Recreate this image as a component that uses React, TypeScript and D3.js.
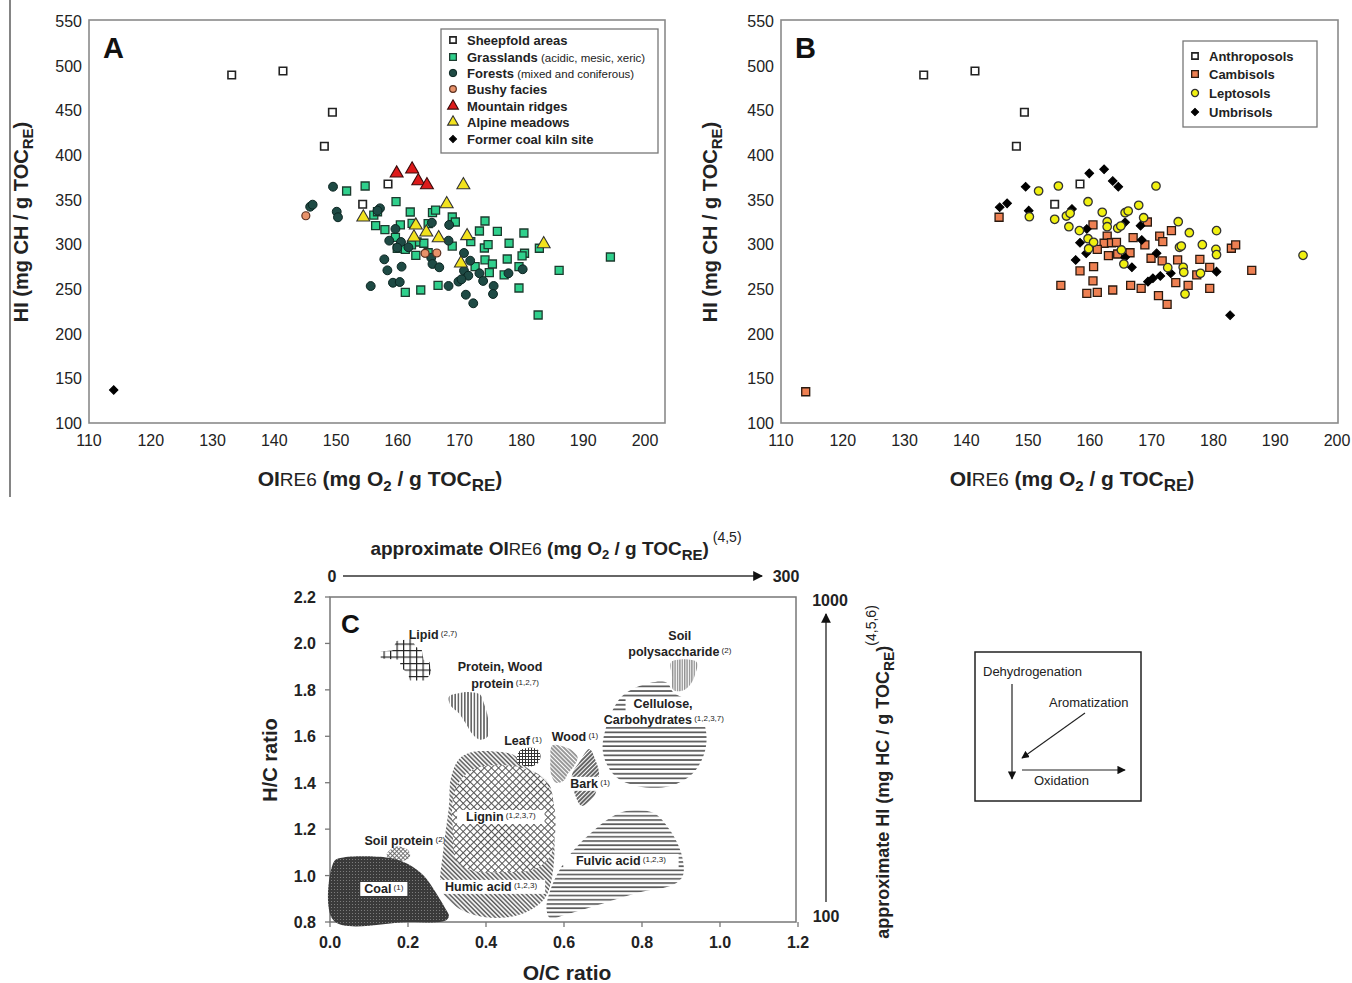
import React from 'react';
import * as d3 from 'd3';

const FONT = '"Liberation Sans", Arial, Helvetica, sans-serif';

// ---------- Panel A data (OI_RE6, HI) ----------
const sheepfold = [[133.1,489.6],[141.4,494],[149.4,447.8],[148.1,409.8],[154.3,344.8],[158.4,367.5]];
const grasslands = [[154.7,365.3],[151.7,359.7],[159.7,347.7],[156.1,332.8],[156.7,336.5],[162,336.2],[165.6,335.4],[166.1,338.4],[168.8,330.6],[169.3,325],[174.1,326.1],[156.4,320.9],[157.9,316.4],[160.4,321.7],[162.3,323.5],[164.9,323.1],[173.2,314.9],[176.1,314.6],[180.4,312.7],[159.6,307.9],[163.1,302.6],[164.2,301.2],[162.2,299.3],[161.2,294.4],[159.9,295.6],[162.9,287.7],[164.9,290.6],[168.8,298.1],[171.8,303],[174,295.9],[174.6,299.6],[178,301.2],[180.5,290],[180.1,287],[182.9,295.6],[177.7,283.6],[174.1,282.5],[175.3,278],[172.5,275],[174.8,268.3],[177.2,265.7],[179.6,275],[179.6,251.1],[186.1,270.9],[194.4,285.8],[161.2,246.3],[163.7,248.9],[166.5,254.1],[182.7,220.9]];
const forests = [[149.5,364.5],[145.8,342.1],[146.2,344.4],[150.1,336.5],[150.3,330.3],[157.1,340.3],[156.7,337.7],[159.6,317.2],[158.6,304.1],[160.5,302.6],[159.9,296.3],[161.7,296.7],[165.5,324.2],[168.3,321.7],[168.2,304.1],[157.8,283.2],[158.3,270.9],[160.6,275],[159.2,257],[160.3,257.8],[155.6,253.3],[165.4,285],[165.6,278],[166.7,274.3],[170.7,290.3],[171.7,281.7],[170.7,270.5],[171.4,264.9],[169.8,258.3],[170.3,260.9],[168.2,253.4],[171,243.6],[172.2,234],[173.2,267.6],[173.8,259],[175.5,253.4],[175.4,244.4],[177.9,267.6],[180.2,272.1]];
const bushy = [[145.1,332],[164.4,290],[166.3,290.3]];
const ridges = [[159.8,379.5],[162.3,384],[163.3,370.9],[164.7,366.4]];
const alpine = [[170.6,366.4],[167.9,345.2],[154.4,330.3],[162.9,321.3],[164.6,313.5],[162.6,307.9],[166.6,307.1],[171.2,309.4],[170.2,278.8],[183.6,300.4]];
const coalKiln = [[114,137]];

// ---------- Panel B data ----------
const anthroposols = [[133.1,489.6],[141.4,494],[149.4,447.8],[148.1,409.8],[154.3,344.8],[158.4,367.5]];
const cambisols = [[114,135],[145.3,330.3],[160.5,321.7],[169.3,325],[173.2,315.3],[162.8,309.3],[162.3,301.2],[163.5,301.8],[164.3,302.3],[161.2,294.4],[167,307.4],[168.9,299.3],[171.3,309.3],[171.8,303],[166.5,290.6],[163,287.3],[164.5,289.2],[169.9,284.4],[171.7,281.4],[174.2,282.5],[177.8,283.2],[179.4,274.3],[182.9,295.6],[183.6,299.3],[186.2,270.9],[177.3,265.7],[158.4,270.2],[160.6,275],[160.5,259],[155.3,254.1],[159.5,245.2],[161.2,246.3],[163.7,248.9],[166.6,254.1],[168.3,250.8],[173.9,257.1],[175.9,254.1],[179.4,250.8],[171.1,242.5],[172.5,232.9]];
const leptosols = [[151.7,359.7],[154.9,365.3],[150.2,330.9],[154.3,328],[156.2,331.7],[156.6,319.7],[158.3,315.3],[159.7,347.7],[156.8,334.7],[162,335.9],[162.8,325.3],[162.8,319.7],[165.7,335.4],[166.2,337.3],[167.9,343.7],[168.7,329.8],[170.7,365.3],[164.5,318],[165,320.5],[159.7,306.3],[160.6,302.3],[159.8,295.1],[165.1,293.7],[165.5,278],[174.3,325.3],[176.1,313],[180.5,315.3],[174.5,296.7],[174.8,298.1],[178.2,299.6],[180.4,294.4],[180.5,288.4],[172.6,273.9],[175.1,274.3],[175.2,268.7],[177.9,267.6],[175.4,244.4],[194.5,287.7]];
const umbrisols = [[145.4,341.5],[146.6,345.9],[149.6,364.5],[150.1,337.7],[159.9,379.5],[157.1,339.6],[162.3,384],[163.7,370.9],[164.6,364.5],[159.5,317.2],[158.4,301.8],[157.7,282.5],[159.4,290],[165.7,324.7],[168.2,320.9],[168.4,304.9],[170.8,290],[165.7,285.5],[166.8,274.3],[169.4,258.2],[170.2,262],[171.4,264.6],[173.1,267.6],[180.5,269.4],[182.7,220.6]];

const xTicksAB = [110,120,130,140,150,160,170,180,190,200];
const yTicksAB = [100,150,200,250,300,350,400,450,500,550];

// ---------- Panel C (van Krevelen) regions, in (O/C, H/C) ----------
const lipidRegion = [[0.13,1.965],[0.16,1.97],[0.17,2.01],[0.21,2.02],[0.22,1.985],[0.235,1.975],[0.24,1.93],[0.255,1.92],[0.26,1.875],[0.245,1.84],[0.205,1.84],[0.2,1.87],[0.18,1.9],[0.18,1.93],[0.13,1.935]];
const proteinRegion = [[0.305,1.77],[0.33,1.785],[0.36,1.79],[0.385,1.78],[0.395,1.74],[0.405,1.68],[0.405,1.6],[0.385,1.585],[0.365,1.61],[0.35,1.65],[0.33,1.7],[0.31,1.73]];
const leafRegion = [[0.48,1.49],[0.485,1.535],[0.505,1.55],[0.53,1.545],[0.54,1.515],[0.53,1.48],[0.505,1.47]];
const woodRegion = [[0.57,1.56],[0.6,1.555],[0.62,1.54],[0.635,1.51],[0.625,1.47],[0.61,1.44],[0.6,1.41],[0.58,1.40],[0.568,1.43],[0.565,1.5]];
const barkRegion = [[0.62,1.43],[0.64,1.49],[0.665,1.545],[0.68,1.5],[0.69,1.44],[0.685,1.39],[0.68,1.35],[0.665,1.32],[0.645,1.30],[0.628,1.35]];
const polysaccharideRegion = [[0.875,1.92],[0.94,1.92],[0.935,1.86],[0.92,1.815],[0.9,1.795],[0.88,1.8],[0.877,1.86]];
const celluloseRegion = [[0.82,1.83],[0.865,1.83],[0.88,1.79],[0.93,1.74],[0.962,1.64],[0.962,1.54],[0.93,1.44],[0.87,1.385],[0.79,1.385],[0.73,1.43],[0.7,1.53],[0.71,1.65],[0.75,1.775]];
const humicRegion = [[0.33,1.5],[0.36,1.53],[0.42,1.535],[0.47,1.52],[0.5,1.47],[0.56,1.4],[0.575,1.2],[0.57,1.0],[0.55,0.9],[0.5,0.84],[0.44,0.818],[0.37,0.83],[0.32,0.87],[0.285,0.94],[0.29,1.1],[0.305,1.3],[0.31,1.42]];
const ligninRegion = [[0.33,1.40],[0.37,1.46],[0.44,1.475],[0.5,1.46],[0.55,1.41],[0.575,1.3],[0.575,1.15],[0.56,1.07],[0.52,1.025],[0.44,1.015],[0.37,1.02],[0.325,1.06],[0.315,1.2],[0.315,1.33]];
const soilProteinRegion = [[0.145,1.09],[0.17,1.125],[0.2,1.11],[0.205,1.08],[0.18,1.06],[0.155,1.065]];
const coalRegion = [[0.01,0.805],[0.01,1.06],[0.03,1.077],[0.15,1.077],[0.2,1.05],[0.24,1.0],[0.27,0.93],[0.295,0.86],[0.305,0.825],[0.295,0.805],[0.2,0.8]];
const fulvicRegion = [[0.77,1.28],[0.83,1.27],[0.87,1.2],[0.9,1.1],[0.905,1.0],[0.88,0.96],[0.8,0.93],[0.7,0.88],[0.6,0.83],[0.565,0.815],[0.555,0.86],[0.575,0.98],[0.62,1.1],[0.68,1.2],[0.73,1.26]];

const xTicksC = [0.0,0.2,0.4,0.6,0.8,1.0,1.2];
const yTicksC = [0.8,1.0,1.2,1.4,1.6,1.8,2.0,2.2];

// labels: [text, superscript, O/C, H/C, white background]
const regionLabels: [string,string,number,number,boolean][] = [
  ['Lipid','(2,7)',0.264,2.02,false],
  ['Protein, Wood','',0.436,1.882,false],
  ['protein','(1,2,7)',0.449,1.809,false],
  ['Leaf','(1)',0.495,1.563,false],
  ['Wood','(1)',0.628,1.58,false],
  ['Bark','(1)',0.667,1.378,true],
  ['Soil','',0.897,2.016,false],
  ['polysaccharide','(2)',0.897,1.947,false],
  ['Cellulose,','',0.854,1.722,true],
  ['Carbohydrates','(1,2,3,7)',0.856,1.653,true],
  ['Lignin','(1,2,3,7)',0.438,1.235,true],
  ['Soil protein','(2)',0.192,1.132,false],
  ['Coal','(1)',0.138,0.925,true],
  ['Humic acid','(1,2,3)',0.413,0.934,true],
  ['Fulvic acid','(1,2,3)',0.746,1.046,true],
];

type Style = { type: any; size: number; fill: string; stroke: string; sw: number; rot?: number };
const sSheep: Style = { type: d3.symbolSquare, size: 56, fill: '#ffffff', stroke: '#222', sw: 1.6 };
const sGrass: Style = { type: d3.symbolSquare, size: 64, fill: '#2fd08c', stroke: '#1c3b2e', sw: 1.3 };
const sForest: Style = { type: d3.symbolCircle, size: 62, fill: '#1e4a44', stroke: '#0c2622', sw: 1 };
const sBushy: Style = { type: d3.symbolCircle, size: 50, fill: '#e8926a', stroke: '#5a3020', sw: 1.2 };
const sRidge: Style = { type: d3.symbolTriangle, size: 72, fill: '#dd1a1a', stroke: '#3a0a0a', sw: 1.1 };
const sAlpine: Style = { type: d3.symbolTriangle, size: 72, fill: '#f2e21e', stroke: '#333', sw: 1.1 };
const sCoal: Style = { type: d3.symbolSquare, size: 36, fill: '#000', stroke: '#000', sw: 1, rot: 45 };
const sCamb: Style = { type: d3.symbolSquare, size: 64, fill: '#ee8052', stroke: '#2a1a10', sw: 1.3 };
const sLepto: Style = { type: d3.symbolCircle, size: 56, fill: '#f0f010', stroke: '#333', sw: 1.3 };
const sUmbri: Style = { type: d3.symbolSquare, size: 38, fill: '#000', stroke: '#000', sw: 1, rot: 45 };

function Marker({ x, y, s }: { x: number; y: number; s: Style }) {
  const d = d3.symbol().type(s.type).size(s.size)() as string;
  return <path d={d} transform={`translate(${x},${y})${s.rot ? ` rotate(${s.rot})` : ''}`} fill={s.fill} stroke={s.stroke} strokeWidth={s.sw} />;
}

function Scatter({ data, s, x, y }: { data: number[][]; s: Style; x: any; y: any }) {
  return <g>{data.map((p, i) => <Marker key={i} x={x(p[0])} y={y(p[1])} s={s} />)}</g>;
}

function ScatterPanel({ x0, letter, series, legend, legendBox, boxRight, yLabelX }: any) {
  const x = d3.scaleLinear().domain([110, 200]).range([x0, x0 + 556]);
  const y = d3.scaleLinear().domain([100, 550]).range([423, 21]);
  const left = x0, top = 20, bottom = 423;
  return (
    <g fontFamily={FONT}>
      <rect x={left} y={top} width={boxRight - left} height={bottom - top} fill="#fff" stroke="#8a8a8a" strokeWidth={1.6} />
      {yTicksAB.map(t => (
        <text key={t} x={left - 7} y={y(t) + 6} textAnchor="end" fontSize={16} fill="#222">{t}</text>
      ))}
      {xTicksAB.map(t => (
        <text key={t} x={x(t)} y={446} textAnchor="middle" fontSize={16} fill="#222">{t}</text>
      ))}
      <text x={left + 14} y={58} fontSize={29} fontWeight="bold" fill="#111">{letter}</text>
      {series.map((se: any, i: number) => <Scatter key={i} data={se.data} s={se.s} x={x} y={y} />)}
      <rect x={legendBox[0]} y={legendBox[1]} width={legendBox[2]} height={legendBox[3]} fill="#fff" stroke="#777" strokeWidth={1.3} />
      {legend.map((l: any, i: number) => (
        <g key={i}>
          <Marker x={legendBox[0] + 12} y={legendBox[1] + l.dy} s={{ ...l.s, size: l.s.size * 0.7 }} />
          <text x={legendBox[0] + 26} y={legendBox[1] + l.dy + 4.5} fontSize={13} fontWeight="bold" fill="#222">
            {l.label}
            {l.extra ? <tspan fontWeight="normal" fontSize={11.5}>{' ' + l.extra}</tspan> : null}
          </text>
        </g>
      ))}
      <text transform={`translate(${yLabelX},222) rotate(-90)`} textAnchor="middle" fontSize={20} fontWeight="bold" fill="#222">
        HI (mg CH / g TOC<tspan fontSize={15} dy={5}>RE</tspan><tspan dy={-5}>)</tspan>
      </text>
      <text x={left + 291} y={486} textAnchor="middle" fontSize={21} fontWeight="bold" fill="#222">
        OI<tspan fontWeight="normal" fontSize={19}>RE6</tspan> (mg O<tspan fontSize={15} dy={5}>2</tspan><tspan dy={-5}> / g TOC</tspan><tspan fontSize={17} dy={5}>RE</tspan><tspan dy={-5}>)</tspan>
      </text>
    </g>
  );
}

export default function App() {
  const xC = d3.scaleLinear().domain([0, 1.2]).range([330, 798]);
  const yC = d3.scaleLinear().domain([0.8, 2.2]).range([922, 597]);
  const blob = d3.line<number[]>().x(d => xC(d[0])).y(d => yC(d[1])).curve(d3.curveCatmullRomClosed.alpha(0.5));
  const poly = d3.line<number[]>().x(d => xC(d[0])).y(d => yC(d[1])).curve(d3.curveLinearClosed);

  const regions: [number[][], string, boolean][] = [
    [humicRegion, 'url(#pHumic)', true],
    [ligninRegion, 'url(#pLignin)', true],
    [lipidRegion, 'url(#pLipid)', false],
    [proteinRegion, 'url(#pVert)', true],
    [leafRegion, 'url(#pLeaf)', true],
    [woodRegion, 'url(#pWood)', true],
    [barkRegion, 'url(#pBark)', true],
    [celluloseRegion, 'url(#pHoriz)', true],
    [polysaccharideRegion, 'url(#pVertGray)', true],
    [soilProteinRegion, 'url(#pSoilProt)', true],
    [coalRegion, 'url(#pCoal)', true],
    [fulvicRegion, 'url(#pHoriz2)', true],
  ];

  return (
    <svg width={1352} height={983} style={{ position: 'absolute', left: 0, top: 0, background: '#fff' }}>
      <defs>
        <pattern id="pLipid" patternUnits="userSpaceOnUse" width={6.5} height={6.5}>
          <rect width={6.5} height={6.5} fill="#fff" />
          <path d="M0 0.6H6.5M0.6 0V6.5" stroke="#222" strokeWidth={1.2} />
        </pattern>
        <pattern id="pVert" patternUnits="userSpaceOnUse" width={3.2} height={4}>
          <rect width={3.2} height={4} fill="#fff" />
          <line x1={0.8} y1={0} x2={0.8} y2={4} stroke="#333" strokeWidth={1.2} />
        </pattern>
        <pattern id="pVertGray" patternUnits="userSpaceOnUse" width={2.4} height={4}>
          <rect width={2.4} height={4} fill="#fff" />
          <line x1={0.7} y1={0} x2={0.7} y2={4} stroke="#888" strokeWidth={1.3} />
        </pattern>
        <pattern id="pLeaf" patternUnits="userSpaceOnUse" width={3} height={3}>
          <rect width={3} height={3} fill="#fff" />
          <path d="M0 0.5H3M0.5 0V3" stroke="#333" strokeWidth={1} />
        </pattern>
        <pattern id="pHoriz" patternUnits="userSpaceOnUse" width={6} height={4.6}>
          <rect width={6} height={4.6} fill="#fff" />
          <line x1={0} y1={1} x2={6} y2={1} stroke="#555" strokeWidth={1.7} />
        </pattern>
        <pattern id="pHoriz2" patternUnits="userSpaceOnUse" width={6} height={4.2}>
          <rect width={6} height={4.2} fill="#fff" />
          <line x1={0} y1={1} x2={6} y2={1} stroke="#555" strokeWidth={1.6} />
        </pattern>
        <pattern id="pWood" patternUnits="userSpaceOnUse" width={3} height={3} patternTransform="rotate(45)">
          <rect width={3} height={3} fill="#fff" />
          <line x1={0} y1={1} x2={3} y2={1} stroke="#777" strokeWidth={1.5} />
        </pattern>
        <pattern id="pBark" patternUnits="userSpaceOnUse" width={3} height={3} patternTransform="rotate(-45)">
          <rect width={3} height={3} fill="#fff" />
          <line x1={0} y1={1} x2={3} y2={1} stroke="#333" strokeWidth={1.5} />
        </pattern>
        <pattern id="pHumic" patternUnits="userSpaceOnUse" width={3.2} height={3.2} patternTransform="rotate(45)">
          <rect width={3.2} height={3.2} fill="#fff" />
          <line x1={0} y1={1} x2={3.2} y2={1} stroke="#555" strokeWidth={1.5} />
        </pattern>
        <pattern id="pLignin" patternUnits="userSpaceOnUse" width={5} height={5} patternTransform="rotate(45)">
          <rect width={5} height={5} fill="#fff" />
          <path d="M0 0.5H5M0.5 0V5" stroke="#555" strokeWidth={1.1} />
        </pattern>
        <pattern id="pSoilProt" patternUnits="userSpaceOnUse" width={3} height={3} patternTransform="rotate(45)">
          <rect width={3} height={3} fill="#fff" />
          <path d="M0 0.5H3M0.5 0V3" stroke="#666" strokeWidth={0.9} />
        </pattern>
        <pattern id="pCoal" patternUnits="userSpaceOnUse" width={3} height={3}>
          <rect width={3} height={3} fill="#3a3a3a" />
          <circle cx={1.5} cy={1.5} r={0.55} fill="#888" />
        </pattern>
        <marker id="arrow" viewBox="0 0 10 10" refX={9} refY={5} markerWidth={7} markerHeight={7} orient="auto-start-reverse">
          <path d="M0 0L10 5L0 10z" fill="#111" />
        </marker>
      </defs>
      <rect width={1352} height={983} fill="#fff" />
      <line x1={10} y1={0} x2={10} y2={497} stroke="#333" strokeWidth={1.2} />

      <ScatterPanel
        x0={89} letter="A" boxRight={665} yLabelX={28}
        series={[
          { data: grasslands, s: sGrass },
          { data: forests, s: sForest },
          { data: sheepfold, s: sSheep },
          { data: bushy, s: sBushy },
          { data: alpine, s: sAlpine },
          { data: ridges, s: sRidge },
          { data: coalKiln, s: sCoal },
        ]}
        legendBox={[441, 29, 217, 124]}
        legend={[
          { label: 'Sheepfold areas', s: sSheep, dy: 11 },
          { label: 'Grasslands', extra: '(acidic, mesic, xeric)', s: sGrass, dy: 28 },
          { label: 'Forests', extra: '(mixed and coniferous)', s: sForest, dy: 44 },
          { label: 'Bushy facies', s: sBushy, dy: 60 },
          { label: 'Mountain ridges', s: sRidge, dy: 77 },
          { label: 'Alpine meadows', s: sAlpine, dy: 93 },
          { label: 'Former coal kiln site', s: sCoal, dy: 110 },
        ]}
      />
      <ScatterPanel
        x0={781} letter="B" boxRight={1338} yLabelX={717}
        series={[
          { data: cambisols, s: sCamb },
          { data: umbrisols, s: sUmbri },
          { data: leptosols, s: sLepto },
          { data: anthroposols, s: sSheep },
        ]}
        legendBox={[1183, 41, 134, 86]}
        legend={[
          { label: 'Anthroposols', s: sSheep, dy: 15 },
          { label: 'Cambisols', s: sCamb, dy: 33 },
          { label: 'Leptosols', s: sLepto, dy: 52 },
          { label: 'Umbrisols', s: sUmbri, dy: 71 },
        ]}
      />

      {/* Panel C */}
      <g fontFamily={FONT}>
        <text x={556} y={555} textAnchor="middle" fontSize={19} fontWeight="bold" fill="#222">
          approximate OI<tspan fontWeight="normal" fontSize={17}>RE6</tspan> (mg O<tspan fontSize={13} dy={4}>2</tspan><tspan dy={-4}> / g TOC</tspan><tspan fontSize={15} dy={5}>RE</tspan><tspan dy={-5}>)</tspan><tspan fontWeight="normal" fontSize={14} dy={-13}> (4,5)</tspan>
        </text>
        <text x={332} y={582} textAnchor="middle" fontSize={16} fontWeight="bold" fill="#222">0</text>
        <line x1={343} y1={576} x2={762} y2={576} stroke="#333" strokeWidth={1.4} markerEnd="url(#arrow)" />
        <text x={786} y={582} textAnchor="middle" fontSize={16} fontWeight="bold" fill="#222">300</text>

        <rect x={330} y={597} width={466} height={325} fill="#fff" stroke="#777" strokeWidth={1.5} />
        {regions.map(([r, f, smooth], i) => (
          <path key={i} d={(smooth ? blob(r) : poly(r)) as string} fill={f} stroke="none" />
        ))}
        {regionLabels.map(([t, sup, ox, hc, bg], i) => {
          const w = t.length * 7.3 + (sup ? sup.length * 4.3 + 3 : 0);
          return (
            <g key={i}>
              {bg ? <rect x={xC(ox) - w / 2 - 1} y={yC(hc) - 11} width={w + 2} height={14} fill="#fff" /> : null}
              <text x={xC(ox)} y={yC(hc)} textAnchor="middle" fontSize={12.5} fontWeight="bold" fill="#222">
                {t}{sup ? <tspan fontSize={8} fontWeight="normal" dy={-3}>{' ' + sup}</tspan> : null}
              </text>
            </g>
          );
        })}
        <text x={341} y={633} fontSize={26} fontWeight="bold" fill="#111">C</text>
        {yTicksC.map(t => (
          <g key={t}>
            <line x1={325} x2={330} y1={yC(t)} y2={yC(t)} stroke="#777" strokeWidth={1.3} />
            <text x={316} y={yC(t) + 6} textAnchor="end" fontSize={16} fontWeight="bold" fill="#222">{t.toFixed(1)}</text>
          </g>
        ))}
        {xTicksC.map(t => (
          <g key={t}>
            <line x1={xC(t)} x2={xC(t)} y1={922} y2={927} stroke="#777" strokeWidth={1.3} />
            <text x={xC(t)} y={948} textAnchor="middle" fontSize={16} fontWeight="bold" fill="#222">{t.toFixed(1)}</text>
          </g>
        ))}
        <text transform="translate(277,760) rotate(-90)" textAnchor="middle" fontSize={20} fontWeight="bold" fill="#222">H/C ratio</text>
        <text x={567} y={980} textAnchor="middle" fontSize={21} fontWeight="bold" fill="#222">O/C ratio</text>

        <text x={830} y={606} textAnchor="middle" fontSize={16} fontWeight="bold" fill="#222">1000</text>
        <line x1={826} y1={902} x2={826} y2={614} stroke="#333" strokeWidth={1.4} markerEnd="url(#arrow)" />
        <text x={826} y={922} textAnchor="middle" fontSize={16} fontWeight="bold" fill="#222">100</text>
        <text transform="translate(889,772) rotate(-90)" textAnchor="middle" fontSize={18} fontWeight="bold" fill="#222">
          approximate HI (mg HC / g TOC<tspan fontSize={14} dy={5}>RE</tspan><tspan dy={-5}>)</tspan><tspan fontWeight="normal" fontSize={14} dy={-13}>(4,5,6)</tspan>
        </text>

        <rect x={975} y={652} width={166} height={149} fill="#fff" stroke="#222" strokeWidth={1.5} />
        <text x={983} y={676} fontSize={13} fill="#222">Dehydrogenation</text>
        <line x1={1012} y1={684} x2={1012} y2={779} stroke="#222" strokeWidth={1.2} markerEnd="url(#arrow)" />
        <text x={1049} y={707} fontSize={13} fill="#222">Aromatization</text>
        <line x1={1085} y1={713} x2={1022} y2={758} stroke="#222" strokeWidth={1.1} markerEnd="url(#arrow)" />
        <line x1={1022} y1={770} x2={1125} y2={770} stroke="#222" strokeWidth={1.2} markerEnd="url(#arrow)" />
        <text x={1034} y={785} fontSize={13} fill="#222">Oxidation</text>
      </g>
    </svg>
  );
}
